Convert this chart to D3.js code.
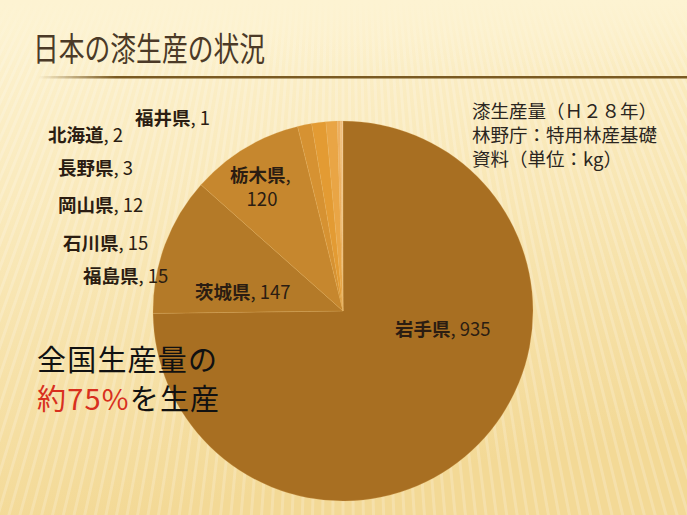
<!DOCTYPE html>
<html lang="ja">
<head>
<meta charset="utf-8">
<script src="https://cdn.jsdelivr.net/npm/d3@7"></script>
<style>
  html, body { margin: 0; padding: 0; background: #fbeec6; }
  svg { display: block; }
  text { font-family: "Noto Sans CJK JP", "Noto Sans", sans-serif; }
</style>
</head>
<body>
<svg id="chart" width="687" height="515"></svg>
<script>
// 漆生産量（H28年, kg）
const prefectures = ["岩手県", "茨城県", "栃木県", "福島県", "石川県", "岡山県", "長野県", "北海道", "福井県"];
const production  = [935, 147, 120, 15, 15, 12, 3, 2, 1];
const sliceColors = ["#a86f22", "#b47a28", "#c6872e", "#d69232", "#e39b33", "#e9a545", "#eeb062", "#f2c183", "#f5d0a2"];

// label anchors (left x, baseline y) per prefecture
const labelLayout = {
  "岩手県": [395, 336],
  "茨城県": [195, 299],
  "栃木県": [230, 182, true],
  "福島県": [83, 283],
  "石川県": [63, 250],
  "岡山県": [58, 212],
  "長野県": [58, 175],
  "北海道": [48, 142],
  "福井県": [135, 125]
};

const noteLines = ["漆生産量（Ｈ２８年）", "林野庁：特用林産基礎", "資料（単位：kg）"];

const W = 687, H = 515;
const svg = d3.select("#chart");
const defs = svg.append("defs");

// ---- background ----
const bg = defs.append("linearGradient").attr("id", "bg").attr("x1", 0).attr("y1", 0).attr("x2", 0.2).attr("y2", 1);
bg.append("stop").attr("offset", "0%").attr("stop-color", "#fdf3d2");
bg.append("stop").attr("offset", "45%").attr("stop-color", "#f9e8b8");
bg.append("stop").attr("offset", "100%").attr("stop-color", "#f3d996");
svg.append("rect").attr("width", W).attr("height", H).attr("fill", "url(#bg)");

// fan of faint stripes
const fanX = 343, fanY = -650, fanLen = 1500;
const stripeAngles = d3.range(-42, 42, 0.5);
svg.append("g").selectAll("line").data(stripeAngles).join("line")
  .attr("x1", fanX).attr("y1", fanY)
  .attr("x2", a => fanX + fanLen * Math.sin(a * Math.PI / 180))
  .attr("y2", a => fanY + fanLen * Math.cos(a * Math.PI / 180))
  .attr("stroke", "#ffffff").attr("stroke-opacity", 0.2).attr("stroke-width", 3);

const topFade = defs.append("linearGradient").attr("id", "topFade").attr("x1", 0).attr("y1", 0).attr("x2", 0).attr("y2", 1);
topFade.append("stop").attr("offset", "0%").attr("stop-color", "#fdf3d2").attr("stop-opacity", 1);
topFade.append("stop").attr("offset", "100%").attr("stop-color", "#fdf3d2").attr("stop-opacity", 0);
svg.append("rect").attr("width", W).attr("height", 70).attr("fill", "url(#topFade)");

// ---- title ----
svg.append("text")
  .attr("x", 33).attr("y", 61)
  .attr("font-size", 33).attr("fill", "#4b3a27")
  .attr("textLength", 232).attr("lengthAdjust", "spacingAndGlyphs")
  .text("日本の漆生産の状況");

const rule = defs.append("linearGradient").attr("id", "rule").attr("x1", 0).attr("x2", 1);
rule.append("stop").attr("offset", "0%").attr("stop-color", "#7a5a22").attr("stop-opacity", 0);
rule.append("stop").attr("offset", "12%").attr("stop-color", "#7a5a22").attr("stop-opacity", 1);
rule.append("stop").attr("offset", "100%").attr("stop-color", "#7a5a22").attr("stop-opacity", 1);
svg.append("rect").attr("x", 38).attr("y", 76).attr("width", W - 38).attr("height", 2.5).attr("fill", "url(#rule)");

// ---- pie ----
const cx = 343, cy = 311, R = 190;
const records = prefectures.map((p, i) => ({ name: p, value: production[i], color: sliceColors[i] }));
const pie = d3.pie().sort(null).value(d => d.value).startAngle(0).endAngle(2 * Math.PI);
const arc = d3.arc().innerRadius(0).outerRadius(R);

const g = svg.append("g").attr("transform", `translate(${cx},${cy})`);
g.selectAll("path").data(pie(records)).join("path")
  .attr("d", arc)
  .attr("fill", d => d.data.color)
  .attr("stroke", "#e8b868").attr("stroke-opacity", 0.35).attr("stroke-width", 0.6);

// ---- data labels ----
const lab = svg.append("g").attr("fill", "#2b1d12").attr("font-size", 18.5);
records.forEach(d => {
  const [x, y, twoLines] = labelLayout[d.name];
  const t = lab.append("text").attr("x", x).attr("y", y);
  t.append("tspan").attr("font-weight", 700).text(d.name);
  if (twoLines) {
    t.append("tspan").attr("font-weight", 400).text(",");
    lab.append("text").attr("x", x + 32).attr("y", y + 24).attr("text-anchor", "middle")
      .attr("font-weight", 400).text(d.value);
  } else {
    t.append("tspan").attr("font-weight", 400).text(", " + d.value);
  }
});

// ---- source note ----
svg.append("g").selectAll("text").data(noteLines).join("text")
  .attr("x", 472).attr("y", (d, i) => 118 + i * 24)
  .attr("font-size", 18.5).attr("fill", "#2a2520")
  .text(d => d);

// ---- share callout ----
const share = Math.round(production[0] / d3.sum(production) * 100);
svg.append("text").attr("x", 37).attr("y", 371).attr("font-size", 29).attr("letter-spacing", 1.2)
  .attr("fill", "#111").text("全国生産量の");
const line2 = svg.append("text").attr("x", 37).attr("y", 410).attr("font-size", 29).attr("letter-spacing", 1.2);
line2.append("tspan").attr("fill", "#d8301e").text(`約${share}%`);
line2.append("tspan").attr("fill", "#111").text("を生産");
</script>
</body>
</html>
